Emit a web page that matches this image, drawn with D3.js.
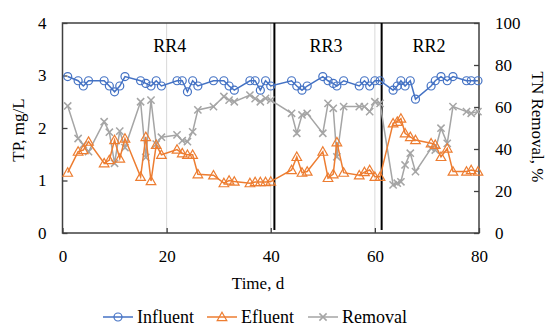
<!DOCTYPE html>
<html><head><meta charset="utf-8">
<script src="https://cdn.jsdelivr.net/npm/d3@7/dist/d3.min.js"></script>
<style>body{margin:0;background:#fff;}svg, svg text{font-family:"Liberation Serif","Times New Roman",serif !important;}</style>
</head><body><svg id="c" width="549" height="323"></svg>
<script>
const days = [1,3,4,5,8,9,10,11,12,15,16,17,18,19,22,23,24,25,26,29,31,32,33,36,37,38,39,40,
  44,45,46,47,50,51,52,52.7,54,57,58,59,60,61,
  63.5,64.3,65,65.8,66.8,67.8,70.8,71.6,72.7,73.9,75,77.6,78.5,79.8];
const influent = [2.98,2.9,2.8,2.9,2.9,2.8,2.69,2.8,2.98,2.9,2.85,2.8,2.9,2.8,2.9,2.9,2.69,2.9,2.8,2.9,2.9,2.8,2.72,2.9,2.9,2.72,2.9,2.8,
  2.9,2.8,2.72,2.8,2.98,2.9,2.85,2.8,2.9,2.8,2.9,2.8,2.9,2.9,
  2.72,2.8,2.9,2.8,2.9,2.55,2.8,2.9,2.98,2.9,2.98,2.9,2.9,2.9];
const efluent = [1.15,1.55,1.58,1.74,1.33,1.39,1.77,1.42,1.8,1.07,1.83,0.99,1.68,1.49,1.59,1.52,1.49,1.49,1.12,1.1,0.95,1.0,0.98,0.95,0.97,0.97,0.97,0.98,
  1.2,1.45,1.15,1.17,1.55,1.05,1.12,1.73,1.15,1.1,1.16,1.2,1.07,1.07,
  2.09,2.12,2.18,1.9,1.83,1.77,1.71,1.68,1.45,1.61,1.17,1.17,1.2,1.17];
const removal = [60.5,45,42,38.7,53,48,33.2,48.5,40.7,62.5,36,63.3,42.3,45.6,46.7,44,43.5,48.2,58.6,60.2,65,63.3,62.5,65.7,64,62.5,64.1,63.3,
  57,47.5,56.2,57,47.5,61.7,59.4,36.3,60.2,60.2,60.2,57.8,62.5,61.7,
  22.9,23.7,24.4,32.4,38,29.2,40.3,39.5,49.9,42.7,60.2,57.8,57,57.8];
const xTicks = [0,20,40,60,80];
const yTicks = [0,1,2,3,4];
const y2Ticks = [0,20,40,60,80,100];
const dividers = [40.7,61.3];
const phases = ["RR4","RR3","RR2"];
const phasePos = [20.6,50.6,70.4];
const seriesNames = ["Influent","Efluent","Removal"];

const FF = "'Liberation Serif','Times New Roman',serif";
const svg = d3.select("#c").attr("font-family",FF);
const L=62.5, R=479, T=23, B=233;
const x = d3.scaleLinear().domain([0,80]).range([L,R]);
const y = d3.scaleLinear().domain([0,4]).range([B,T]);
const y2 = d3.scaleLinear().domain([0,100]).range([B,T]);
const colors = ["#4472C4","#ED7D31","#A5A5A5"];

// gridlines
svg.append("g").selectAll("line").data([20,40,60]).join("line")
  .attr("x1",d=>x(d)).attr("x2",d=>x(d)).attr("y1",T).attr("y2",B)
  .attr("stroke","#d9d9d9").attr("stroke-width",1);

// axes
const fs = "17px";
const fmt = d3.format("d");
const ax = svg.append("g").attr("transform",`translate(0,${B})`)
  .call(d3.axisBottom(x).tickValues(xTicks).tickFormat(fmt).tickSizeInner(-5).tickSizeOuter(0).tickPadding(17));
const ay = svg.append("g").attr("transform",`translate(${L},0)`)
  .call(d3.axisLeft(y).tickValues(yTicks).tickFormat(fmt).tickSizeInner(-5).tickSizeOuter(0).tickPadding(16));
const ay2 = svg.append("g").attr("transform",`translate(${R},0)`)
  .call(d3.axisRight(y2).tickValues(y2Ticks).tickFormat(fmt).tickSizeInner(-5).tickSizeOuter(0).tickPadding(16));
[ax,ay,ay2].forEach(g=>{
  g.attr("font-family",FF).attr("font-size",fs);
  g.selectAll("text").attr("font-size",fs).attr("fill","#000").attr("font-family",FF);
  g.selectAll("line").attr("stroke","#404040").attr("stroke-width",1.3);
  g.select(".domain").remove();
});
// frame
svg.append("rect").attr("x",L).attr("y",T).attr("width",R-L).attr("height",B-T)
  .attr("fill","none").attr("stroke","#404040").attr("stroke-width",1.5);

// dividers
svg.append("g").selectAll("line").data(dividers).join("line")
  .attr("x1",d=>x(d)).attr("x2",d=>x(d)).attr("y1",T).attr("y2",B-3)
  .attr("stroke","#000").attr("stroke-width",2);

// phase labels
svg.append("g").selectAll("text").data(phases).join("text")
  .attr("x",(d,i)=>x(phasePos[i])).attr("y",52).attr("text-anchor","middle")
  .attr("font-size","18px").attr("font-family",FF).text(d=>d);

const line = (ys,sc)=>d3.line().x((d,i)=>x(days[i])).y(d=>sc(d))(ys);

function circle(g,cx,cy,c){g.append("circle").attr("cx",cx).attr("cy",cy).attr("r",4).attr("fill","none").attr("stroke",c).attr("stroke-width",1.2);}
function tri(g,cx,cy,c){const s=4.8;g.append("path").attr("d",`M${cx},${cy-s}L${cx+s},${cy+s*0.75}L${cx-s},${cy+s*0.75}Z`).attr("fill","none").attr("stroke",c).attr("stroke-width",1.2);}
function cross(g,cx,cy,c){const s=3.6;g.append("path").attr("d",`M${cx-s},${cy-s}L${cx+s},${cy+s}M${cx-s},${cy+s}L${cx+s},${cy-s}`).attr("stroke",c).attr("stroke-width",1.5);}
const markers=[circle,tri,cross];

const sets=[[influent,y],[efluent,y],[removal,y2]];
[2,1,0].forEach(k=>{
  const [vals,sc]=sets[k];
  const g=svg.append("g");
  g.append("path").attr("d",line(vals,sc)).attr("fill","none").attr("stroke",colors[k]).attr("stroke-width",1.5);
  vals.forEach((v,i)=>markers[k](g,x(days[i]),sc(v),colors[k]));
});

// axis titles
const title=(sel)=>sel.attr("text-anchor","middle").attr("font-size","17px").attr("font-family",FF);
svg.append("text").attr("transform","translate(24,130) rotate(-90)").call(title).text("TP, mg/L");
svg.append("text").attr("transform","translate(532,127) rotate(90)").call(title).text("TN Removal, %");
svg.append("text").attr("x",258).attr("y",289).call(title).text("Time, d");

// legend
const legX=[103,207,308];
const lg=svg.append("g");
seriesNames.forEach((n,k)=>{
  const lx=legX[k], ly=317;
  lg.append("line").attr("x1",lx).attr("x2",lx+30).attr("y1",ly).attr("y2",ly).attr("stroke",colors[k]).attr("stroke-width",1.5);
  markers[k](lg,lx+15,ly,colors[k]);
  lg.append("text").attr("x",lx+34).attr("y",ly+6).attr("font-size","18px").attr("font-family",FF).text(n);
});
</script></body></html>
